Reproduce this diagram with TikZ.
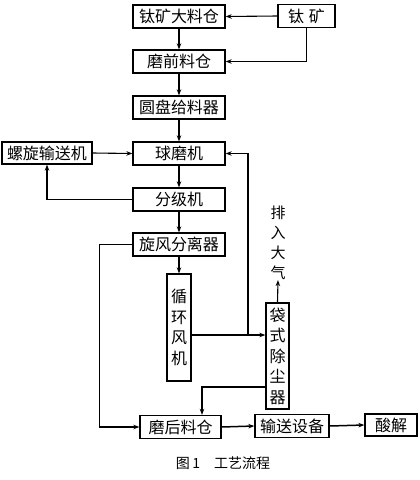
\documentclass[tikz,border=0pt]{standalone}
\usepackage{fontspec}
\setmainfont{Noto Sans CJK SC}
\usetikzlibrary{arrows.meta}
\begin{document}
\begin{tikzpicture}[x=1pt,y=-1pt,>={Stealth[length=6pt,width=4.5pt]}]
        % Styles
        \tikzstyle{box}=[draw,line width=1.3pt,inner sep=0pt,font=\fontsize{16}{20.5}\selectfont]
        \tikzstyle{wide box}=[box,minimum width=92,minimum height=23]
        \tikzstyle{tall box}=[box,align=center,minimum width=24]
        \tikzstyle{flow}=[line width=1.1pt]
        \useasboundingbox (0,0) rectangle (420,480);
        %The graphic
        %main line
        \node[wide box] (dlc) at (179,16.5) {钛矿大料仓};
        \node[box,minimum width=57,minimum height=23] (tk) at (306.5,16) {钛\hspace{5pt}矿};
        \node[wide box] (mqlc) at (179,61.5) {磨前料仓};
        \node[wide box] (ypgl) at (179,107.5) {圆盘给料器};
        \node[wide box] (qmj) at (179,153.5) {球磨机};
        \node[box,minimum width=90,minimum height=22] (lxss) at (47,153) {螺旋输送机};
        \node[wide box] (fjj) at (179,199.5) {分级机};
        \node[wide box] (xffl) at (179,244.5) {旋风分离器};
        \node[tall box,minimum height=107] (xhfj) at (179,327.5) {循\\环\\风\\机};
        \node[tall box,minimum width=23,minimum height=106] (dscq) at (277.5,356) {袋\\式\\除\\尘\\器};
        \node[align=center,inner sep=0pt,font=\fontsize{15}{20}\selectfont] (pq) at (278,243) {排\\入\\大\\气};
        %bottom line
        \node[box,minimum width=81,minimum height=23] (mhlc) at (180.5,427) {磨后料仓};
        \node[box,minimum width=74,minimum height=23] (ssb) at (292,426) {输送设备};
        \node[box,minimum width=52,minimum height=22] (sj) at (391,425) {酸解};
        \node[font=\fontsize{14}{16}\selectfont] (cap) at (223,463) {图\,1\quad 工艺流程};
        %connectors
        \draw[flow,->] (tk.west) -- (dlc.east);
        \draw[flow,->] (tk.south) |- (mqlc.east);
        \draw[flow,line width=1.5pt,->] (dlc.south) -- (mqlc.north);
        \draw[flow,line width=1.5pt,->] (mqlc.south) -- (ypgl.north);
        \draw[flow,line width=1.5pt,->] (ypgl.south) -- (qmj.north);
        \draw[flow,line width=1.5pt,->] (qmj.south) -- (fjj.north);
        \draw[flow,line width=1.5pt,->] (fjj.south) -- (xffl.north);
        \draw[flow,line width=1.5pt,->] (xffl.south) -- (xhfj.north);
        \draw[flow,->] (lxss.east) -- (qmj.west);
        \draw[flow,->] (fjj.west) -| (lxss.south);
        \draw[flow,->] (xffl.west) -- ++(-33,0) |- (mhlc.west);
        \coordinate (j) at (248,335);
        \draw[flow,line width=1.5pt] (xhfj.east |- j) -- (j);
        \draw[flow,line width=1.5pt,->] (j) -- (j -| dscq.west);
        \draw[flow,->] (j) |- (qmj.east);
        \draw[flow,->] (dscq.north) -- (pq.south);
        \coordinate (k) at (202,387);
        \draw[flow,->] (dscq.west |- k) -| (mhlc.north -| k);
        \draw[flow,line width=1.5pt,->] (mhlc.east) -- (ssb.west);
        \draw[flow,line width=1.5pt,->] (ssb.east) -- (sj.west);
\end{tikzpicture}
\end{document}
